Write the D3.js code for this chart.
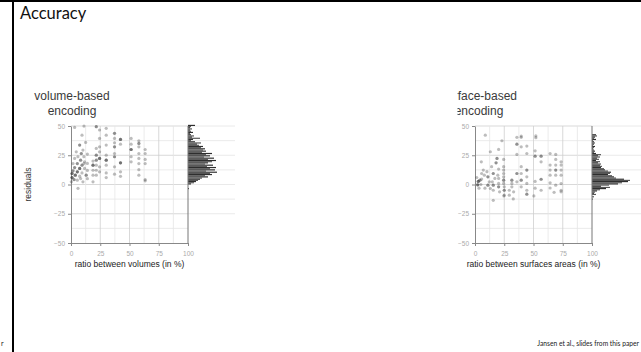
<!DOCTYPE html>
<html>
<head>
<meta charset="utf-8">
<script src="https://cdn.jsdelivr.net/npm/d3@7"></script>
<style>
    body { margin: 0; background: #fff; }
    svg { display: block; }
</style>
</head>
<body>
<script>
// ---- data ----

// scatter: [ratio (%), residual, overlapping trials]
const volumePoints = [
    [3.1, 48.8, 1], [11.1, 49.9, 1], [9.4, 42.2, 1], [21.6, 49.4, 2], [24.4, 46.6, 1],
    [30.1, 48, 1], [30.1, 42.2, 1], [37.2, 43.7, 2], [37.2, 39.4, 1], [42.3, 38.5, 3],
    [42.3, 34.5, 1], [51.4, 39.4, 1], [51.4, 34.5, 1], [58, 37.4, 1], [58, 35.1, 2],
    [58, 32.2, 1], [63.4, 29.9, 1], [63.4, 26.5, 1], [63.4, 21.4, 1], [63.4, 17.9, 1],
    [63.4, 4.2, 1], [63.4, 3.1, 1], [58, 26.5, 1], [58, 22.3, 1], [58, 17.9, 1],
    [58, 12.7, 1], [58, 8, 1], [51.4, 29.9, 3], [51.4, 23.7, 1], [51.4, 19.4, 1],
    [42.3, 18.5, 3], [42.3, 10.8, 1], [42.3, 7, 1], [37.2, 35.7, 1], [37.2, 32.2, 2],
    [37.2, 26.5, 1], [37.2, 23.7, 2], [37.2, 15.1, 1], [37.2, 8.8, 1], [30.1, 33.7, 1],
    [30.1, 25.1, 1], [30.1, 20.8, 3], [30.1, 16.5, 1], [30.1, 9.9, 1], [30.1, 5.9, 1],
    [24.4, 39.4, 1], [24.4, 32.2, 1], [24.4, 27.9, 1], [24.4, 22.3, 3], [24.4, 15.1, 1],
    [24.4, 10.8, 1], [21.6, 30.8, 1], [21.6, 25.1, 2], [21.6, 20.8, 2], [21.6, 16.5, 1],
    [21.6, 12.2, 1], [21.6, 8, 1], [18.8, 16.5, 3], [18.8, 12.2, 1], [18.8, 8, 1],
    [18.8, 2.3, 1], [18.8, 20, 1], [7.4, 33.7, 2], [10.2, 29.4, 1], [8.8, 26.5, 2],
    [4.5, 27.9, 1], [5.9, 23.7, 1], [11, 23.7, 1], [3.1, 22.3, 1], [8.2, 20.8, 2],
    [11.6, 19.4, 1], [1.7, 17.9, 1], [5.4, 17.9, 2], [9.4, 16.5, 2], [3.1, 14.5, 2],
    [7.4, 13.7, 3], [11.6, 13.7, 1], [1.7, 11.7, 2], [5.4, 10.8, 3], [9.4, 9.9, 1],
    [0.9, 9.4, 3], [3.7, 8, 3], [7.4, 7.1, 1], [0.9, 5.9, 3], [2.6, 4.2, 2],
    [5.4, 3.7, 1], [0.3, 2.3, 1], [10.2, 2.3, 1], [8.2, 5.1, 1], [6, -3.3, 1],
    [11.1, 17.9, 1], [14, 26, 1], [14, 18, 1], [14, 12, 1], [14, 5, 1],
    [12.5, 36, 1], [13, 8, 2],
];

const surfacePoints = [
    [8.8, 42.2, 1], [23, 37.4, 1], [35.8, 40.3, 1], [39.5, 41.4, 1], [39.5, 40.3, 1],
    [52, 40, 1], [52, 41.5, 1], [35.8, 34.5, 2], [39.5, 32.2, 1], [44.3, 32.8, 1],
    [20.2, 30, 1], [13.1, 28, 1], [18.8, 22.3, 2], [18, 18.5, 2], [24.5, 21.4, 1],
    [5.4, 19.4, 1], [35.8, 25.7, 1], [44.3, 26.5, 1], [51.4, 28.8, 1], [51.4, 24.2, 2],
    [56.5, 24.2, 2], [56.5, 19.4, 1], [64.2, 26.5, 1], [69, 25.7, 1], [69, 21.4, 1],
    [73.6, 19.4, 1], [73.6, 16.6, 1], [64.2, 16.6, 1], [69, 16.6, 1], [69, 12.3, 2],
    [73.6, 12.3, 1], [64.2, 12.3, 1], [69, 8, 1], [73.6, 8, 1], [64.2, 8, 1],
    [64.2, 1.4, 1], [73.6, 0.8, 1], [73.6, -4.9, 1], [73.6, -6.3, 1], [69, -0.6, 1],
    [56.5, 4.5, 2], [56.5, -4.9, 1], [51.4, 2.6, 1], [51.4, -3.1, 1], [44.3, 12.3, 2],
    [44.3, 6.6, 1], [44.3, 0.9, 1], [44.3, -4.9, 1], [44.3, -8.3, 2], [39.5, 15.2, 1],
    [39.5, 9.4, 1], [39.5, 3.7, 2], [39.5, -2, 1], [35.8, 9.4, 2], [35.8, 2.3, 1],
    [31.5, 3.7, 2], [31.5, 0.9, 1], [31.5, -2, 1], [33, -6.3, 1], [29.3, -4.9, 1],
    [29.3, -9.1, 1], [24.5, 15.2, 1], [24.5, 12.3, 1], [24.5, 9.4, 1], [24.5, 6.6, 1],
    [24.5, 3.7, 2], [24.5, 0.9, 1], [25, -2, 1], [25, -4.9, 2], [25, -9.1, 1],
    [20.2, 13.2, 1], [19.5, 8, 1], [20.2, 5.2, 1], [20.2, 0.9, 1], [20.2, -2, 2],
    [21, -6.3, 1], [14.2, 15.2, 1], [15.6, 9.4, 2], [17, 5.2, 1], [14.8, 2.3, 1],
    [15.6, -0.6, 2], [15.6, -4.9, 1], [10.2, 11, 1], [11, 6.6, 2], [12.2, 2.3, 1],
    [11, -0.6, 2], [13.1, -3.4, 1], [2.8, 2.6, 3], [4.2, 3.7, 2], [5.7, 4.6, 1],
    [2.3, -0.3, 3], [7.1, 12.3, 1], [8, 8, 1], [5.7, 9.4, 1], [3.4, -3.1, 1],
    [8.5, -3.1, 1], [5, 0, 1], [15.6, -13.5, 1], [32.7, -12.3, 1], [24.7, -9.8, 1],
    [50.3, -9.8, 1], [67.6, -6.7, 1], [64.2, -3, 1], [1.5, 6, 1],
];

// marginal histograms: lower edge of each residual bin, and its count
const volumeBins = [
    50, 49, 48, 47, 46, 45, 44, 43, 42, 41, 40, 39, 38, 37, 36, 35, 34, 33, 32,
    31, 30, 29, 28, 27, 26, 25, 24, 23, 22, 21, 20, 19, 18, 17, 16, 15, 14, 13,
    12, 11, 10, 9, 8, 7, 6, 5, 4, 3, 2, 1, 0, -1, -2, -3, -4, -5,
];
const volumeCounts = [
    7, 3, 2, 4, 2, 3, 5, 2, 3, 6, 4, 12, 5, 3, 7, 13, 9, 11, 15,
    13, 17, 15, 18, 14, 24, 18, 22, 16, 26, 20, 28, 24, 20, 17, 25, 19, 28, 22,
    27, 18, 29, 22, 24, 17, 20, 14, 12, 10, 8, 6, 3, 0, 0, 0, 1, 0,
];
const surfaceBins = [
    42, 41, 40, 39, 38, 37, 36, 35, 34, 33, 32, 31, 30, 29, 28, 27, 26, 25, 24,
    23, 22, 21, 20, 19, 18, 17, 16, 15, 14, 13, 12, 11, 10, 9, 8, 7, 6, 5, 4,
    3, 2, 1, 0, -1, -2, -3, -4, -5, -6, -7, -8, -9, -10, -11, -12, -13,
];
const surfaceCounts = [
    4, 5, 3, 2, 4, 1, 2, 3, 2, 1, 3, 2, 1, 2, 3, 2, 4, 9, 6,
    8, 5, 7, 4, 8, 6, 9, 8, 10, 9, 12, 13, 16, 19, 18, 16, 20, 22, 24, 32,
    38, 36, 30, 26, 17, 9, 18, 14, 8, 5, 3, 2, 4, 0, 2, 0, 1,
];

const xTicks = [0, 25, 50, 75, 100];
const yTicks = [-50, -25, 0, 25, 50];
const xGrid = [12.5, 25, 37.5, 50, 62.5, 75, 87.5];
const yGrid = [-37.5, -25, -12.5, 0, 12.5, 25, 37.5, 50];
const yGridExtended = [-25, -12.5, 0, 12.5, 25, 37.5, 50];

// ---- drawing ----

const width = 641;
const height = 352;
const sans = "'Liberation Sans', Arial, Helvetica, sans-serif";
const slideFont = "Lato, 'Open Sans', sans-serif";

const svg = d3.select(document.body).append("svg")
    .attr("width", width)
    .attr("height", height)
;

// slide frame
svg.append("rect")
    .attr("x", 0).attr("y", 0)
    .attr("width", width).attr("height", 2)
    .attr("fill", "#000")
;
svg.append("rect")
    .attr("x", 12).attr("y", 0)
    .attr("width", 2).attr("height", height)
    .attr("fill", "#000")
;
svg.append("text")
    .text("Accuracy")
    .attr("x", 20)
    .attr("y", 19)
    .attr("font-family", slideFont)
    .attr("font-size", 16.5)
    .attr("fill", "#111")
;
svg.append("text")
    .text("r")
    .attr("x", 1)
    .attr("y", 346)
    .attr("font-family", slideFont)
    .attr("font-size", 7)
    .attr("fill", "#222")
;
svg.append("text")
    .text("Jansen et al., slides from this paper")
    .attr("x", 639)
    .attr("y", 346)
    .attr("text-anchor", "end")
    .attr("font-family", slideFont)
    .attr("font-size", 6.7)
    .attr("fill", "#222")
;

const plotTop = 126;
const plotSize = 117;

const drawPanel = function(cfg) {
    let g = svg.append("g");
    if (cfg.clipLeft) {
        svg.append("clipPath")
            .attr("id", cfg.id + "-clip")
            .append("rect")
            .attr("x", cfg.clipLeft).attr("y", 0)
            .attr("width", width - cfg.clipLeft).attr("height", height)
        ;
        g.attr("clip-path", `url(#${cfg.id}-clip)`);
    }
    g = g.append("g").attr("transform", `translate(${cfg.x0},${plotTop})`);

    const x = d3.scaleLinear().domain([0, 100]).range([0, plotSize]);
    const y = d3.scaleLinear().domain([-50, 50]).range([plotSize, 0]);
    const len = d3.scaleLinear().domain([0, 40]).range([0, 40]);

    // grid lines running past the histogram
    g.append("g").selectAll("line")
        .data(yGridExtended)
        .join("line")
        .attr("x1", plotSize).attr("x2", cfg.extendTo - cfg.x0)
        .attr("y1", d => y(d)).attr("y2", d => y(d))
        .attr("stroke", "#e4e4e4")
        .attr("stroke-width", 0.8)
    ;
    // grid inside the plot
    g.append("g").selectAll("line")
        .data(yGrid)
        .join("line")
        .attr("x1", 0).attr("x2", plotSize)
        .attr("y1", d => y(d)).attr("y2", d => y(d))
        .attr("stroke", d => d % 25 === 0 ? "#cfcfcf" : "#e6e6e6")
        .attr("stroke-width", 0.8)
    ;
    g.append("g").selectAll("line")
        .data(xGrid)
        .join("line")
        .attr("y1", 0).attr("y2", plotSize)
        .attr("x1", d => x(d)).attr("x2", d => x(d))
        .attr("stroke", d => d % 25 === 0 ? "#cfcfcf" : "#e6e6e6")
        .attr("stroke-width", 0.8)
    ;

    // histogram
    g.append("g").selectAll("rect")
        .data(cfg.bins.map((b, i) => [b, cfg.counts[i]]))
        .join("rect")
        .attr("x", plotSize)
        .attr("y", d => y(d[0] + 1))
        .attr("width", d => len(d[1]))
        .attr("height", d => y(d[0]) - y(d[0] + 1))
        .attr("fill", (d, i) => i % 2 ? "#555" : "#2e2e2e")
    ;
    // right border / histogram baseline
    g.append("line")
        .attr("x1", plotSize).attr("x2", plotSize)
        .attr("y1", 0).attr("y2", plotSize)
        .attr("stroke", "#777")
        .attr("stroke-width", 1)
    ;

    // axes
    const styleAxis = sel => {
        sel.select(".domain").attr("stroke", "#888");
        sel.selectAll(".tick line").attr("stroke", "#888");
        sel.selectAll(".tick text")
            .attr("fill", "#aaa")
            .attr("font-family", sans)
            .attr("font-size", 6.5)
        ;
    };
    g.append("g")
        .attr("transform", `translate(0,${plotSize})`)
        .call(d3.axisBottom(x).tickValues(xTicks).tickSize(3).tickPadding(5).tickSizeOuter(0))
        .call(styleAxis)
    ;
    g.append("g")
        .call(d3.axisLeft(y).tickValues(yTicks).tickSize(3).tickPadding(3).tickSizeOuter(0))
        .call(styleAxis)
    ;

    // points
    const dots = cfg.points.flatMap(([r, res, n]) => d3.range(n).map(() => [r, res]));
    g.append("g").selectAll("circle")
        .data(dots)
        .join("circle")
        .attr("cx", d => x(d[0]))
        .attr("cy", d => y(d[1]))
        .attr("r", 1.6)
        .attr("fill", "#333")
        .attr("fill-opacity", 0.32)
    ;

    // labels
    g.append("text")
        .text("residuals")
        .attr("transform", `translate(-40,${y(0)}) rotate(-90)`)
        .attr("text-anchor", "middle")
        .attr("font-family", sans)
        .attr("font-size", 8.5)
        .attr("fill", "#333")
    ;
    g.append("text")
        .text(cfg.xLabel)
        .attr("x", plotSize / 2)
        .attr("y", plotSize + 24)
        .attr("text-anchor", "middle")
        .attr("font-family", sans)
        .attr("font-size", 8.5)
        .attr("fill", "#222")
    ;
    g.append("g").selectAll("text")
        .data(cfg.title)
        .join("text")
        .text(d => d)
        .attr("x", cfg.titleDx)
        .attr("y", (d, i) => -26 + i * 15)
        .attr("text-anchor", "middle")
        .attr("font-family", sans)
        .attr("font-size", 12)
        .attr("fill", "#3a3a3a")
    ;
};

drawPanel({
    id: "volume",
    x0: 71,
    extendTo: 235,
    points: volumePoints,
    bins: volumeBins,
    counts: volumeCounts,
    xLabel: "ratio between volumes (in %)",
    title: ["volume-based", "encoding"],
    titleDx: 1,
});

drawPanel({
    id: "surface",
    x0: 475,
    extendTo: 641,
    clipLeft: 457.5,
    points: surfacePoints,
    bins: surfaceBins,
    counts: surfaceCounts,
    xLabel: "ratio between surfaces areas (in %)",
    title: ["surface-based", "encoding"],
    titleDx: 4,
});
</script>
</body>
</html>
